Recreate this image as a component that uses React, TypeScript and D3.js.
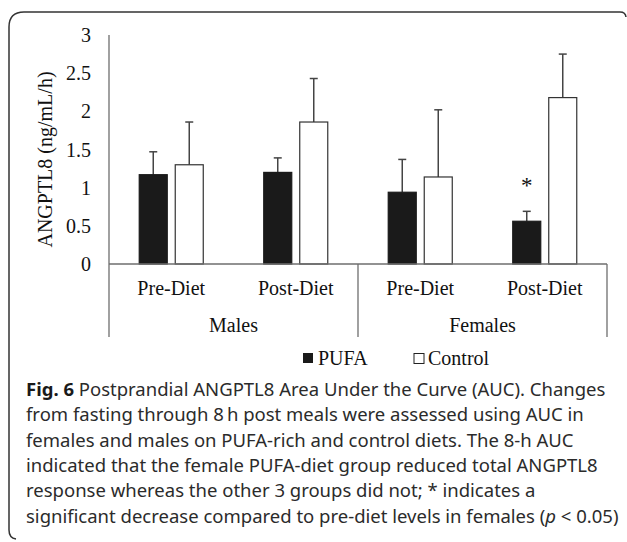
import React from "react";
import * as d3 from "d3";

// categories and groups
const diets = ["Pre-Diet", "Post-Diet", "Pre-Diet", "Post-Diet"];
const sexes = ["Males", "Females"];
const seriesNames = ["PUFA", "Control"];

// AUC values and error bars (ng/mL/h)
const pufa = [1.17, 1.2, 0.94, 0.56];
const pufaErr = [0.3, 0.19, 0.43, 0.13];
const control = [1.3, 1.86, 1.14, 2.18];
const controlErr = [0.56, 0.57, 0.88, 0.57];

// * marks the significant female post-diet PUFA drop
const signif = [false, false, false, true];

const yTicks = [0, 0.5, 1, 1.5, 2, 2.5, 3];

const captionLines = [
  "from fasting through 8\u2009h post meals were assessed using AUC in",
  "females and males on PUFA-rich and control diets. The 8-h AUC",
  "indicated that the female PUFA-diet group reduced total ANGPTL8",
  "response whereas the other 3 groups did not; * indicates a",
];

const W = 627, H = 542;
const margin = { left: 109, right: 20, top: 35, bottom: 278 };
const serif = "'Liberation Serif', 'Times New Roman', serif";
const sans = "'Noto Sans', 'Open Sans', sans-serif";
const axisColor = "#6e6e6e";
const capTop = 396;
const lineGap = 25.3;

export default function App() {
  const x0 = d3.scaleBand<number>()
    .domain(diets.map((d, i) => i))
    .range([margin.left, W - margin.right])
    .paddingInner(0).paddingOuter(0);

  const x1 = d3.scaleBand<string>()
    .domain(seriesNames)
    .range([0, x0.bandwidth()])
    .paddingInner(0.222)
    .paddingOuter(0.84);

  const y = d3.scaleLinear().domain([0, 3]).range([H - margin.bottom, margin.top]);
  const y0 = y(0);
  const groupW = x0.bandwidth() * 2;

  const rows = [
    { name: "PUFA", vals: pufa, errs: pufaErr, fill: "#1a1a1a" },
    { name: "Control", vals: control, errs: controlErr, fill: "#ffffff" },
  ];

  return (
    <svg width={W} height={H} style={{ position: "absolute", left: 0, top: 0, background: "#fff" }}>
      {/* figure frame */}
      <path d="M 9 27 Q 9 12 24 12 L 620 12 Q 625.5 12 626 17" fill="none" stroke="#333" strokeWidth={1.5} />
      <path d="M 9 27 L 9 530 Q 9 538 16 539" fill="none" stroke="#333" strokeWidth={1.5} />

      {/* y axis */}
      <line x1={margin.left} x2={margin.left} y1={y(3)} y2={y0 + 73} stroke={axisColor} strokeWidth={1.3} />
      {yTicks.map((t) => (
        <text key={t} x={91} y={y(t) + 7} textAnchor="end" fontFamily={serif} fontSize={20} fill="#111">
          {t}
        </text>
      ))}
      <text transform={`translate(52, ${(y(3) + y0) / 2 + 10}) rotate(-90)`} textAnchor="middle"
        fontFamily={serif} fontSize={20} fill="#111">
        ANGPTL8 (ng/mL/h)
      </text>

      {/* bars */}
      {rows.map((s) =>
        s.vals.map((v, i) => {
          const bx = (x0(i) as number) + (x1(s.name) as number);
          const bw = x1.bandwidth();
          const cx = bx + bw / 2;
          return (
            <g key={s.name + i}>
              <line x1={cx} x2={cx} y1={y(v)} y2={y(v + s.errs[i])} stroke="#444" strokeWidth={1.5} />
              <line x1={cx - 4} x2={cx + 4} y1={y(v + s.errs[i])} y2={y(v + s.errs[i])} stroke="#444" strokeWidth={1.5} />
              <rect x={bx} y={y(v)} width={bw} height={y0 - y(v)} fill={s.fill}
                stroke={s.name === "PUFA" ? "#1a1a1a" : "#333"} strokeWidth={1.2} />
            </g>
          );
        })
      )}
      {signif.map((sg, i) =>
        sg ? (
          <text key={"s" + i} x={(x0(i) as number) + (x1("PUFA") as number) + x1.bandwidth() / 2}
            y={y(pufa[i] + pufaErr[i]) - 18} textAnchor="middle" fontFamily={serif} fontSize={23} fill="#111">
            *
          </text>
        ) : null
      )}

      {/* x axis, two levels */}
      <line x1={margin.left} x2={W - margin.right} y1={y0} y2={y0} stroke={axisColor} strokeWidth={1.3} />
      {sexes.map((s, g) => {
        const gx = margin.left + g * groupW;
        return (
          <g key={s}>
            <line x1={gx + groupW} x2={gx + groupW} y1={y0} y2={y0 + 73} stroke={axisColor} strokeWidth={1.3} />
            <text x={gx + groupW / 2} y={y0 + 68} textAnchor="middle" fontFamily={serif} fontSize={20} fill="#111">
              {s}
            </text>
          </g>
        );
      })}
      {diets.map((d, i) => (
        <text key={i} x={(x0(i) as number) + x0.bandwidth() / 2} y={y0 + 31} textAnchor="middle"
          fontFamily={serif} fontSize={20} fill="#111">
          {d}
        </text>
      ))}

      {/* legend */}
      <rect x={303} y={353} width={10} height={10} fill="#1a1a1a" />
      <text x={318} y={365} fontFamily={serif} fontSize={20} fill="#111">PUFA</text>
      <rect x={414} y={353.5} width={10} height={10} fill="#fff" stroke="#222" strokeWidth={1} />
      <text x={428} y={365} fontFamily={serif} fontSize={20} fill="#111">Control</text>

      {/* caption */}
      <g fontFamily={sans} fontSize={18.5} fill="#2b2b2b">
        <text x={26} y={capTop}>
          <tspan fontWeight="bold" fill="#1a1a1a">Fig. 6</tspan> Postprandial ANGPTL8 Area Under the Curve (AUC). Changes
        </text>
        {captionLines.map((l, i) => (
          <text key={i} x={26} y={capTop + (i + 1) * lineGap}>{l}</text>
        ))}
        <text x={26} y={capTop + 5 * lineGap}>
          significant decrease compared to pre-diet levels in females (<tspan fontStyle="italic">p</tspan> &lt; 0.05)
        </text>
      </g>
    </svg>
  );
}
